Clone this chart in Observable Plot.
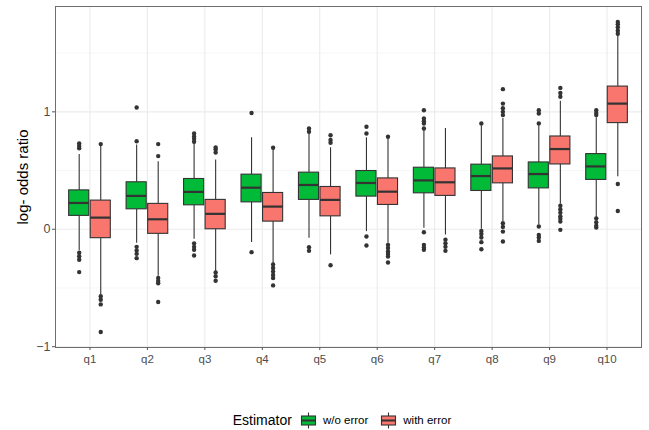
<!DOCTYPE html>
<html>
<head>
<meta charset="utf-8">
<script src="https://cdn.jsdelivr.net/npm/d3@7"></script>
<script src="https://cdn.jsdelivr.net/npm/@observablehq/plot@0.6"></script>
<style>
  html, body { margin: 0; padding: 0; background: #fff; }
  body { width: 649px; height: 430px; overflow: hidden; font-family: "Liberation Sans", Arial, sans-serif; }
  #legend { display: flex; align-items: center; justify-content: center; height: 32px; padding-top: 6px; margin-left: 55px; margin-right: 8px; color: #000; }
  #legend .title { font-size: 14px; margin-right: 8px; }
  #legend .lab { font-size: 11.5px; margin-left: 6px; margin-right: 12px; }
  #legend svg { display: block; }
</style>
</head>
<body>
<div id="chart"></div>
<div id="legend"></div>
<script>
const categories = ["q1","q2","q3","q4","q5","q6","q7","q8","q9","q10"];
const estimators = ["w/o error", "with error"];
const colors = ["#00BA38", "#F8766D"];
const yTicks = [-1, 0, 1];
const yMinor = [-0.5, 0.5, 1.5];

// w/o error
const woLowWhisker = [-0.184, -0.119, -0.085, -0.113, -0.076, -0.020, 0.008, 0.000, 0.037, 0.100];
const woQ1         = [0.114, 0.170, 0.204, 0.229, 0.250, 0.278, 0.306, 0.326, 0.348, 0.420];
const woMedian     = [0.224, 0.284, 0.318, 0.354, 0.377, 0.394, 0.416, 0.453, 0.470, 0.535];
const woQ3         = [0.331, 0.400, 0.428, 0.465, 0.482, 0.496, 0.524, 0.550, 0.569, 0.640];
const woHighWhisker= [0.637, 0.717, 0.730, 0.779, 0.816, 0.779, 0.844, 0.880, 0.880, 0.950];
const woOutliers = [
  [0.73, 0.71, 0.69, -0.20, -0.23, -0.26, -0.365],
  [0.75, 1.037, -0.15, -0.18, -0.21, -0.246],
  [0.815, 0.79, 0.77, 0.745, -0.12, -0.15, -0.175, -0.223],
  [0.99, -0.195],
  [0.858, 0.83, -0.153, -0.184],
  [0.873, 0.816, -0.062, -0.138],
  [1.014, 0.943, 0.92, 0.90, 0.858, -0.025, -0.133, -0.155, -0.175],
  [0.90, -0.014, -0.04, -0.07, -0.11, -0.17],
  [1.014, 0.986, 0.90, 0.023, -0.048, -0.07, -0.099],
  [1.014, 0.99, 0.972, 0.093, 0.06, 0.03, 0.014]
];

// with error
const wLowWhisker = [-0.557, -0.400, -0.360, -0.297, -0.218, -0.119, -0.048, 0.065, 0.212, 0.448];
const wQ1         = [-0.076, -0.039, 0.000, 0.065, 0.110, 0.207, 0.284, 0.391, 0.552, 0.904];
const wMedian     = [0.099, 0.085, 0.131, 0.193, 0.250, 0.320, 0.400, 0.518, 0.683, 1.070];
const wQ3         = [0.244, 0.216, 0.250, 0.309, 0.360, 0.433, 0.518, 0.620, 0.790, 1.215];
const wHighWhisker= [0.715, 0.575, 0.590, 0.680, 0.694, 0.770, 0.858, 0.943, 1.091, 1.652];
const wOutliers = [
  [0.725, -0.57, -0.60, -0.64, -0.875],
  [0.623, 0.725, -0.415, -0.44, -0.46, -0.62],
  [0.654, 0.68, 0.697, -0.368, -0.40, -0.438],
  [0.694, -0.30, -0.33, -0.36, -0.39, -0.416, -0.478],
  [0.737, 0.76, 0.80, -0.306],
  [0.788, -0.133, -0.16, -0.19, -0.21, -0.232, -0.283],
  [-0.09, -0.12, -0.15, -0.184],
  [0.972, 1.0, 1.03, 1.07, 1.193, 0.051, 0.02, -0.02, -0.104],
  [1.128, 1.16, 1.204, 0.20, 0.17, 0.14, 0.11, 0.09, 0.065, -0.005],
  [1.665, 1.69, 1.72, 1.745, 1.765, 0.386, 0.156]
];

// ---- build tables ----
const dodge = 0.1875, halfW = 0.175;
const series = [
  {est: estimators[0], lw: woLowWhisker, q1: woQ1, med: woMedian, q3: woQ3, uw: woHighWhisker, out: woOutliers, off: -dodge},
  {est: estimators[1], lw: wLowWhisker, q1: wQ1, med: wMedian, q3: wQ3, uw: wHighWhisker, out: wOutliers, off: dodge}
];
const boxes = [];
const outs = [];
categories.forEach((c, i) => {
  series.forEach(s => {
    const x = i + 1 + s.off;
    boxes.push({cat: c, est: s.est, x, lw: s.lw[i], q1: s.q1[i], med: s.med[i], q3: s.q3[i], uw: s.uw[i]});
    s.out[i].forEach(v => outs.push({cat: c, est: s.est, x, y: v}));
  });
});
const allY = outs.map(d => d.y).concat(boxes.map(d => d.lw), boxes.map(d => d.uw));
const yMin = d3.min(allY), yMax = d3.max(allY), pad = (yMax - yMin) * 0.05;
const catIdx = categories.map((c, i) => i + 1);

const ink = "#333333";
const plot = Plot.plot({
  width: 649,
  height: 398,
  marginLeft: 55,
  marginRight: 8,
  marginTop: 6,
  marginBottom: 51,
  style: {fontFamily: "'Liberation Sans', Arial, sans-serif", fontSize: "11px", background: "#fff"},
  x: {domain: [0.4, categories.length + 0.6]},
  y: {domain: [yMin - pad, yMax + pad]},
  color: {domain: estimators, range: colors},
  marks: [
    Plot.ruleY(yMinor, {stroke: "#f3f3f3", strokeWidth: 0.7}),
    Plot.ruleY(yTicks, {stroke: "#ebebeb", strokeWidth: 1.1}),
    Plot.ruleX(catIdx, {stroke: "#ebebeb", strokeWidth: 1.1}),
    Plot.ruleX(boxes, {x: "x", y1: "lw", y2: "q1", stroke: ink, strokeWidth: 1.1}),
    Plot.ruleX(boxes, {x: "x", y1: "q3", y2: "uw", stroke: ink, strokeWidth: 1.1}),
    Plot.rect(boxes, {x1: d => d.x - halfW, x2: d => d.x + halfW, y1: "q1", y2: "q3", fill: "est", stroke: ink, strokeWidth: 1.1}),
    Plot.ruleY(boxes, {y: "med", x1: d => d.x - halfW, x2: d => d.x + halfW, stroke: ink, strokeWidth: 2.2}),
    Plot.dot(outs, {x: "x", y: "y", r: 2.2, fill: ink, stroke: "none"}),
    Plot.frame({stroke: "#6e6e6e", strokeWidth: 1}),
    Plot.axisY(yTicks, {tickSize: 3, stroke: "#555", fill: "#4d4d4d", fontSize: 12.5, tickPadding: 2,
      tickFormat: d3.format("d"),
      label: "log- odds ratio", labelAnchor: "center", labelArrow: "none", labelOffset: 38}),
    Plot.axisX(catIdx, {tickSize: 3, stroke: "#555", fill: "#4d4d4d", fontSize: 11.5, tickPadding: 4,
      tickFormat: i => categories[i - 1], label: null})
  ]
});
document.getElementById("chart").appendChild(plot);
// style y-axis title
plot.querySelectorAll("[aria-label='y-axis label'] text, [aria-label='y-axis label']").forEach(el => {
  el.setAttribute("fill", "#000");
  el.setAttribute("font-size", "15");
});

// legend
const legend = document.getElementById("legend");
const t = document.createElement("span");
t.className = "title";
t.textContent = "Estimator";
legend.appendChild(t);
estimators.forEach((e, k) => {
  const svg = d3.create("svg").attr("width", 17).attr("height", 17);
  svg.append("line").attr("x1", 8.5).attr("x2", 8.5).attr("y1", 0.5).attr("y2", 16.5).attr("stroke", ink).attr("stroke-width", 1.1);
  svg.append("rect").attr("x", 1.5).attr("y", 4).attr("width", 14).attr("height", 9).attr("fill", colors[k]).attr("stroke", ink).attr("stroke-width", 1.1);
  svg.append("line").attr("x1", 1.5).attr("x2", 15.5).attr("y1", 8.5).attr("y2", 8.5).attr("stroke", ink).attr("stroke-width", 2);
  legend.appendChild(svg.node());
  const l = document.createElement("span");
  l.className = "lab";
  l.textContent = e;
  legend.appendChild(l);
});
</script>
</body>
</html>
